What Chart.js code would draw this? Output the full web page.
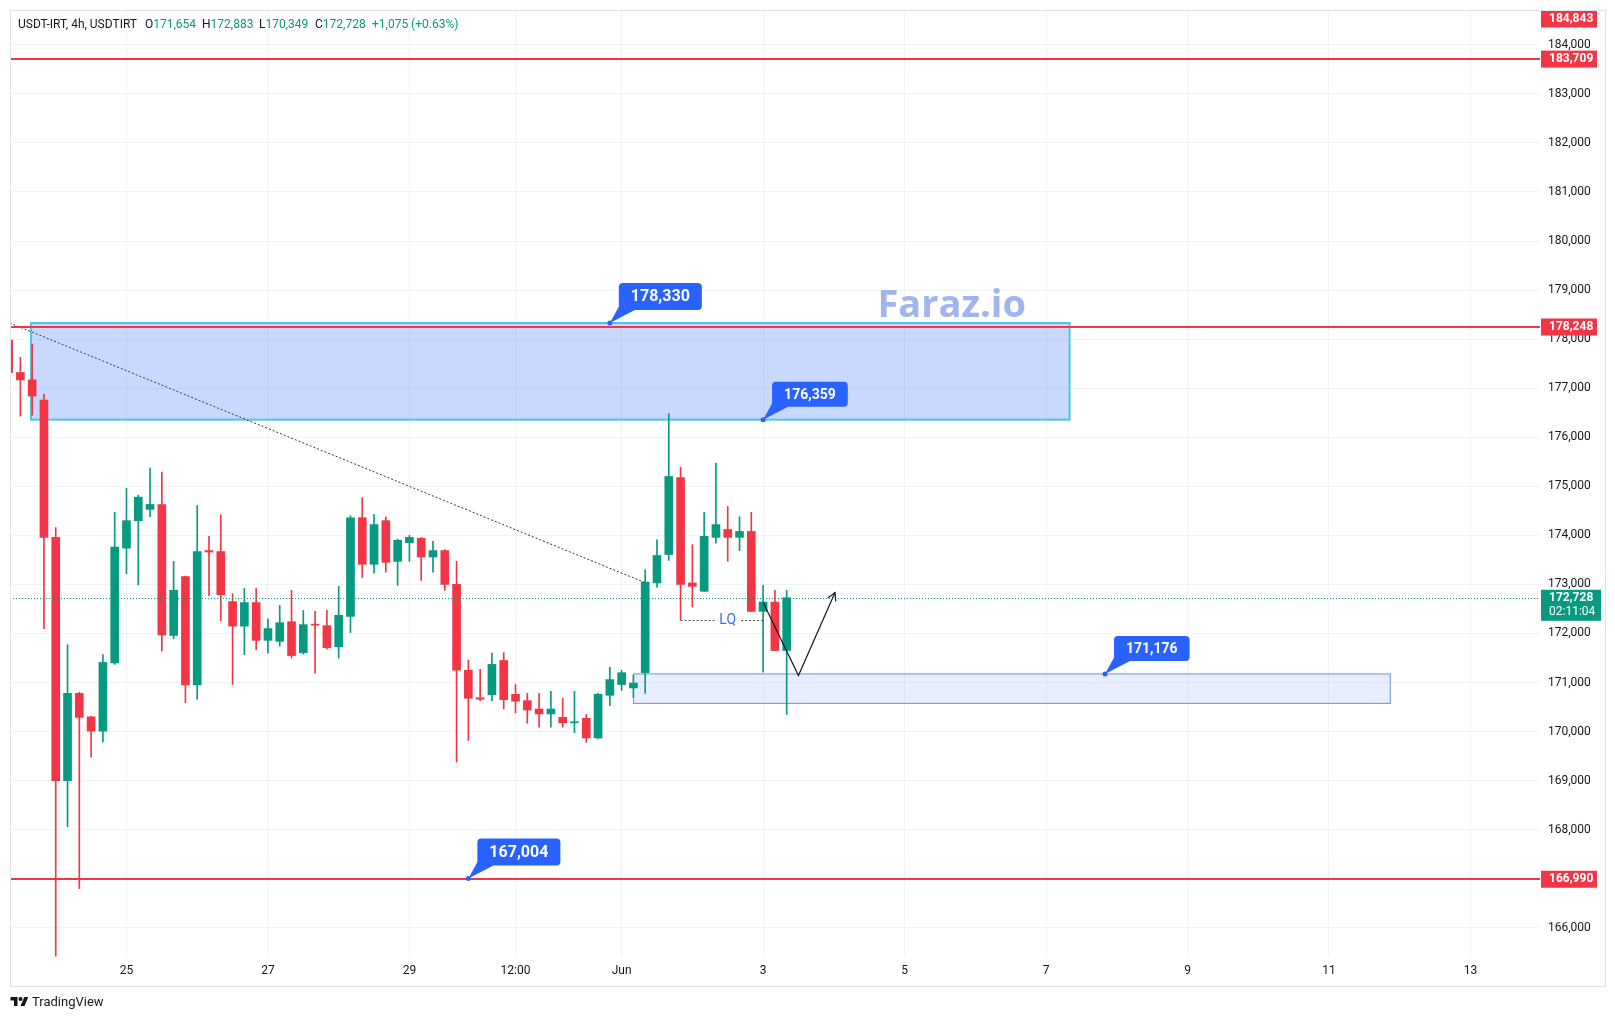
<!DOCTYPE html>
<html>
<head>
<meta charset="utf-8">
<title>USDT-IRT, 4h</title>
<script src="https://cdn.jsdelivr.net/npm/chart.js@4.4.1/dist/chart.umd.min.js"></script>
<style>
  html, body { margin: 0; padding: 0; background: #fff; }
  #wrap { position: relative; width: 1615px; height: 1021px; }
  #legend { position: absolute; top: 17px; left: 0; font: 12px Roboto, sans-serif; color: #131722; white-space: nowrap; }
  #legend > span { position: absolute; top: 0; }
  #legend .up { color: #089981; }
  #brand { position: absolute; left: 10px; top: 994px; font: 13px Roboto, sans-serif; color: #131722; display: flex; align-items: center; gap: 3px; }
</style>
</head>
<body>
<div id="wrap">
  <canvas id="chart" width="1615" height="1021"></canvas>
  <div id="legend"></div>
  <div id="brand">
    <svg width="19" height="14" viewBox="0 0 36 28"><path d="M14 22H7V11H0V4h14v18z M28 22h-8l7.5-18h8L28 22z" fill="#131722"/><circle cx="20" cy="8" r="4" fill="#131722"/></svg>
    <span>TradingView</span>
  </div>
</div>
<script>
// 4h candles, index 0 = 23 May 08:00
const opens  = [177980,177320,177170,176760,173960,169000,170780,170300,170010,171400,
                173740,174300,174530,174630,171960,173160,170950,173690,173670,172650,
                172150,172630,171860,171840,172240,171610,172190,172160,171730,172350,
                174360,173410,174300,173470,173850,173940,173560,173690,173000,171250,
                170690,170750,171450,170760,170630,170460,170360,170290,170180,170270,
                169870,170740,170960,170890,171200,173030,173610,175180,173030,172860,
                173960,174120,173960,174080,172450,172640,171654];
const highs  = [178000,177630,177900,176880,174160,171770,170800,170310,171570,174470,
                174960,174820,175370,175290,173470,173170,174610,173980,174420,172810,
                172920,172920,172300,172570,172880,172470,172450,172470,172960,174400,
                174770,174430,174380,173920,174000,173960,173880,173710,173470,171460,
                171270,171600,171610,170960,170780,170780,170820,170680,170820,170350,
                170780,171310,171250,171150,173300,173910,176480,175390,173810,174470,
                175470,174590,174380,174470,172980,172880,172883];
const lows   = [177250,176430,176450,172100,165420,168060,166800,169480,169790,171370,
                173220,172990,174380,171640,171890,170590,170660,172770,172260,170960,
                171570,171670,171600,171740,171500,171580,171190,171680,171500,172020,
                173140,173230,173250,172980,173470,173080,173250,172880,169380,169820,
                170630,170630,170460,170380,170170,170090,170090,170090,169980,169780,
                169850,170530,170840,170700,170780,172940,173490,172280,172540,172850,
                173840,173470,173690,172450,171210,171653,170349];
const closes = [177320,177170,176840,173960,169000,170780,170290,170010,171410,173760,
                174300,174780,174630,171970,172880,170950,173670,173660,172790,172150,
                172630,171860,172100,172220,171550,172180,172170,171710,172370,174360,
                173410,174220,173450,173900,173960,173560,173690,173000,171250,170680,
                170660,171370,170650,170620,170440,170360,170460,170180,170190,169870,
                170760,171060,171200,170990,173050,173590,175200,173000,172960,173980,
                174220,173960,174080,172450,172640,171653,172728];

// time axis: bar index of each labelled date
const timeTickPos    = [10, 22, 34, 43, 52, 64, 76, 88, 100, 112, 124];
const timeTickLabels = ['25', '27', '29', '12:00', 'Jun', '3', '5', '7', '9', '11', '13'];
const priceTicks = [166000,167000,168000,169000,170000,171000,172000,173000,174000,
                    175000,176000,177000,178000,179000,180000,181000,182000,183000,184000];

// drawings (data coordinates)
const redLevels = [183709, 178248, 166990];
const offscaleLevel = 184843;
const supplyZone = { from: 1.9, to: 90, top: 178330, bottom: 176359 };
const demandZone = { from: 53, to: 117.2, top: 171176, bottom: 170575 };
const trendLine = [[0.1, 178330], [53.9, 173045]];
const lqLine = { from: 57, to: 64, price: 172280, mid: 61 };
const pathPoints = [[64, 172637], [67, 171143], [70.1, 172835]];
const callouts = [
  { i: 51, v: 178330, size: 16 },
  { i: 64, v: 176359, size: 14 },
  { i: 93, v: 171176, size: 14 },
  { i: 39, v: 167004, size: 16 }
];

const UP = '#089981', DOWN = '#f23645', GRID = 'rgba(42,46,57,0.06)', TEXT = '#131722';
const FONT = 'Roboto, sans-serif';
const fmt = v => Math.round(v).toLocaleString('en-US');
const last = closes.length - 1;
const lastPrice = closes[last];

// header legend, built from the last candle
(function () {
  const chg = closes[last] - closes[last - 1];
  const pct = chg / closes[last - 1] * 100;
  const parts = [
    [18, 'USDT-IRT, 4h, USDTIRT'],
    [145, 'O<span class="up">' + fmt(opens[last]) + '</span>'],
    [202, 'H<span class="up">' + fmt(highs[last]) + '</span>'],
    [259, 'L<span class="up">' + fmt(lows[last]) + '</span>'],
    [315, 'C<span class="up">' + fmt(closes[last]) + '</span>'],
    [372, '<span class="up">+' + fmt(chg) + ' (+' + pct.toFixed(2) + '%)</span>']
  ];
  document.getElementById('legend').innerHTML =
    parts.map(p => '<span style="left:' + p[0] + 'px">' + p[1] + '</span>').join('');
})();

function roundRect(ctx, x, y, w, h, r) {
  ctx.beginPath();
  ctx.moveTo(x + r, y);
  ctx.arcTo(x + w, y, x + w, y + h, r);
  ctx.arcTo(x + w, y + h, x, y + h, r);
  ctx.arcTo(x, y + h, x, y, r);
  ctx.arcTo(x, y, x + w, y, r);
  ctx.closePath();
}

function drawZone(ctx, x, y, z, fill, stroke, lw) {
  const l = x.getPixelForValue(z.from), r = x.getPixelForValue(z.to);
  const t = y.getPixelForValue(z.top), b = y.getPixelForValue(z.bottom);
  ctx.fillStyle = fill;
  ctx.fillRect(l, t, r - l, b - t);
  ctx.strokeStyle = stroke;
  ctx.lineWidth = lw;
  ctx.strokeRect(l, t, r - l, b - t);
}

function drawCallout(ctx, ax, ay, text, size) {
  ctx.font = 'bold ' + size + 'px ' + FONT;
  const w = ctx.measureText(text).width + 24;
  const h = size + 11;
  const bx = ax + 9, by = ay - 13 - h;
  ctx.fillStyle = '#2962ff';
  ctx.beginPath();
  ctx.moveTo(ax, ay);
  ctx.lineTo(bx + 2, by + h - 7);
  ctx.lineTo(bx + 16, by + h);
  ctx.closePath();
  ctx.fill();
  roundRect(ctx, bx, by, w, h, 4);
  ctx.fill();
  ctx.beginPath();
  ctx.arc(ax, ay, 2.5, 0, Math.PI * 2);
  ctx.fill();
  ctx.fillStyle = '#fff';
  ctx.textAlign = 'center';
  ctx.textBaseline = 'middle';
  ctx.fillText(text, bx + w / 2, by + h / 2 + 1);
}

function drawTag(ctx, left, cy, bg, lines) {
  const h = lines.length > 1 ? 31 : 17;
  const top = lines.length > 1 ? cy - 8 : cy - h / 2;
  ctx.fillStyle = bg;
  ctx.fillRect(left + 1, top, lines.length > 1 ? 60 : 56, h);
  ctx.fillStyle = '#fff';
  ctx.textAlign = 'left';
  ctx.textBaseline = 'middle';
  lines.forEach((s, k) => {
    ctx.font = (k === 0 ? 'bold ' : '') + '12px ' + FONT;
    ctx.fillText(s, left + 9, top + 8.5 + k * 14);
  });
}

const drawings = {
  id: 'drawings',
  beforeDatasetsDraw(chart) {
    const { ctx, chartArea: a, scales: { x, y } } = chart;
    ctx.save();
    ctx.beginPath();
    ctx.rect(a.left, a.top, a.right - a.left, a.bottom - a.top);
    ctx.clip();
    drawZone(ctx, x, y, supplyZone, 'rgba(41,98,255,0.25)', '#4fc6dc', 2);
    drawZone(ctx, x, y, demandZone, 'rgba(41,98,255,0.11)', '#6a93dc', 1);
    ctx.restore();
  },
  afterDatasetsDraw(chart) {
    const { ctx, chartArea: a, scales: { x, y } } = chart;
    ctx.save();
    ctx.beginPath();
    ctx.rect(a.left, a.top, a.right - a.left, a.bottom - a.top);
    ctx.clip();

    // last price line
    const py = Math.round(y.getPixelForValue(lastPrice)) + 0.5;
    ctx.strokeStyle = UP;
    ctx.lineWidth = 1;
    ctx.setLineDash([1, 2]);
    ctx.beginPath(); ctx.moveTo(a.left, py); ctx.lineTo(a.right, py); ctx.stroke();

    // dotted trend line
    ctx.strokeStyle = '#333';
    ctx.setLineDash([2, 2]);
    ctx.beginPath();
    ctx.moveTo(x.getPixelForValue(trendLine[0][0]), y.getPixelForValue(trendLine[0][1]));
    ctx.lineTo(x.getPixelForValue(trendLine[1][0]), y.getPixelForValue(trendLine[1][1]));
    ctx.stroke();

    // LQ marker
    const ly = Math.round(y.getPixelForValue(lqLine.price)) + 0.5;
    const lm = x.getPixelForValue(lqLine.mid);
    ctx.font = '14px ' + FONT;
    const tw = ctx.measureText('LQ').width;
    ctx.strokeStyle = '#555';
    ctx.beginPath();
    ctx.moveTo(x.getPixelForValue(lqLine.from), ly); ctx.lineTo(lm - tw / 2 - 5, ly);
    ctx.moveTo(lm + tw / 2 + 5, ly); ctx.lineTo(x.getPixelForValue(lqLine.to), ly);
    ctx.stroke();
    ctx.setLineDash([]);
    ctx.fillStyle = '#3b6ee0';
    ctx.textAlign = 'center';
    ctx.textBaseline = 'middle';
    ctx.fillText('LQ', lm, ly);

    // red levels
    ctx.strokeStyle = DOWN;
    ctx.lineWidth = 2;
    redLevels.forEach(v => {
      const ry = Math.round(y.getPixelForValue(v));
      ctx.beginPath(); ctx.moveTo(a.left, ry); ctx.lineTo(a.right, ry); ctx.stroke();
    });

    // projected path with arrow
    const pts = pathPoints.map(p => [x.getPixelForValue(p[0]), y.getPixelForValue(p[1])]);
    ctx.strokeStyle = '#131722';
    ctx.lineWidth = 1.2;
    ctx.beginPath();
    pts.forEach((p, k) => k ? ctx.lineTo(p[0], p[1]) : ctx.moveTo(p[0], p[1]));
    ctx.stroke();
    const [p1, p2] = pts.slice(-2);
    const ang = Math.atan2(p2[1] - p1[1], p2[0] - p1[0]);
    ctx.beginPath();
    ctx.moveTo(p2[0] - 9 * Math.cos(ang - 0.5), p2[1] - 9 * Math.sin(ang - 0.5));
    ctx.lineTo(p2[0], p2[1]);
    ctx.lineTo(p2[0] - 9 * Math.cos(ang + 0.5), p2[1] - 9 * Math.sin(ang + 0.5));
    ctx.stroke();

    // watermark text
    ctx.font = 'bold 38px "Open Sans", sans-serif';
    ctx.fillStyle = '#a0b4f0';
    ctx.textAlign = 'center';
    ctx.textBaseline = 'alphabetic';
    ctx.fillText('Faraz.io', x.getPixelForValue(80), y.getPixelForValue(178450));

    callouts.forEach(c => drawCallout(ctx, x.getPixelForValue(c.i), y.getPixelForValue(c.v), fmt(c.v), c.size));
    ctx.restore();
  },
  afterDraw(chart) {
    const { ctx, chartArea: a, scales: { y } } = chart;
    ctx.save();
    drawTag(ctx, a.right, a.top + 9, DOWN, [fmt(offscaleLevel)]);
    redLevels.forEach(v => drawTag(ctx, a.right, y.getPixelForValue(v), DOWN, [fmt(v)]));
    drawTag(ctx, a.right, y.getPixelForValue(lastPrice), UP, [fmt(lastPrice), '02:11:04']);
    ctx.strokeStyle = '#e0e3eb';
    ctx.lineWidth = 1;
    ctx.strokeRect(10.5, 10.5, 1595, 976);
    ctx.restore();
  }
};

const colors = closes.map((c, i) => c >= opens[i] ? UP : DOWN);
const idx = closes.map((_, i) => i);

new Chart(document.getElementById('chart'), {
  type: 'bar',
  data: {
    datasets: [
      { label: 'body', data: idx.map(i => ({ x: i, y: [opens[i], closes[i]] })),
        backgroundColor: colors, barThickness: 8, minBarLength: 1, grouped: false, order: 1 },
      { label: 'wick', data: idx.map(i => ({ x: i, y: [lows[i], highs[i]] })),
        backgroundColor: colors, barThickness: 1, grouped: false, order: 2 }
    ]
  },
  options: {
    responsive: false,
    animation: false,
    devicePixelRatio: 1,
    layout: { padding: { left: 10, top: 10, right: 10, bottom: 35 } },
    plugins: { legend: { display: false }, tooltip: { enabled: false } },
    scales: {
      x: {
        type: 'linear', min: 0.12, max: 129.9, offset: false,
        afterBuildTicks: s => { s.ticks = timeTickPos.map(v => ({ value: v })); },
        afterFit: s => { s.height = 29; s.paddingLeft = 0; s.paddingRight = 0; },
        ticks: {
          callback: v => timeTickLabels[timeTickPos.indexOf(v)],
          font: { family: FONT, size: 12 }, color: TEXT, padding: 7,
          maxRotation: 0, autoSkip: false
        },
        grid: { color: GRID, drawTicks: false, offset: false },
        border: { display: false }
      },
      y: {
        position: 'right', min: 165405, max: 184710,
        afterBuildTicks: s => { s.ticks = priceTicks.map(v => ({ value: v })); },
        afterFit: s => { s.width = 65; s.paddingTop = 0; s.paddingBottom = 0; },
        ticks: { callback: v => fmt(v), font: { family: FONT, size: 12 }, color: TEXT, padding: 8 },
        grid: { color: GRID, drawTicks: false },
        border: { display: false }
      }
    }
  },
  plugins: [drawings]
});
</script>
</body>
</html>
